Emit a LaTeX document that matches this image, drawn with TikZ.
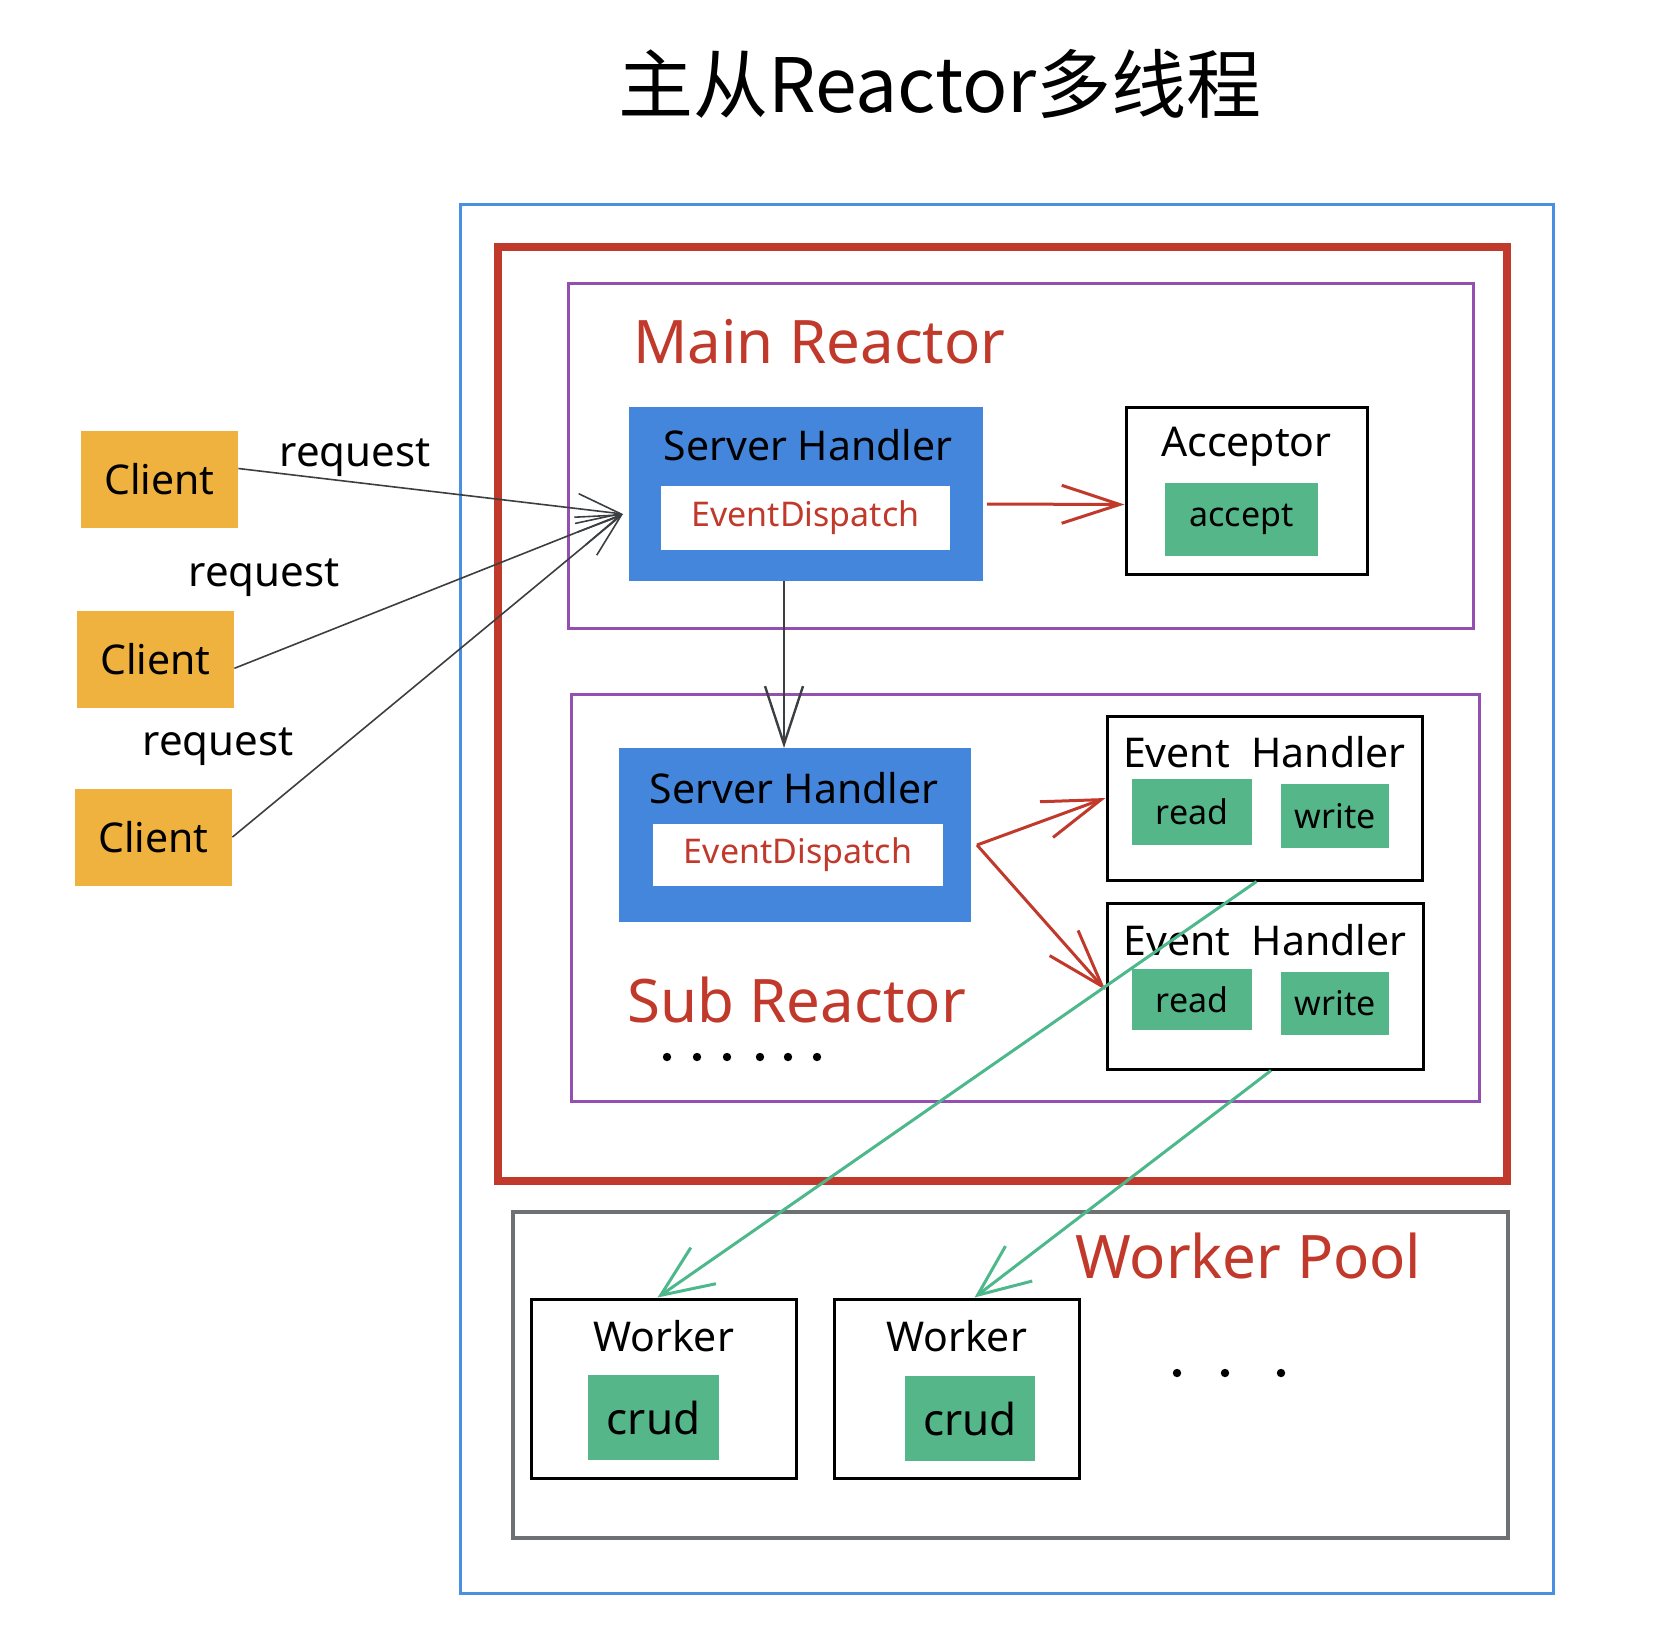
\documentclass[tikz,border=0pt]{standalone}
\usepackage{fontspec}
\setmainfont{Noto Sans}
\newfontfamily\cjkfont{Noto Sans CJK SC}
\usetikzlibrary{arrows.meta,positioning,calc}
\definecolor{frameblue}{HTML}{4A90E2}
\definecolor{framered}{HTML}{C0392B}
\definecolor{framepurple}{HTML}{9350B0}
\definecolor{poolgrey}{HTML}{6E7174}
\definecolor{handlerblue}{HTML}{4486DC}
\definecolor{opgreen}{HTML}{55B68A}
\definecolor{clientorange}{HTML}{EFB23E}
\definecolor{linegreen}{HTML}{4CB88C}
\definecolor{linegrey}{HTML}{3C3F42}

\begin{document}
\begin{tikzpicture}[x=0.5pt, y=-0.5pt,
    handler_box/.style={draw=handlerblue, fill=handlerblue, line width=1pt, inner sep=0pt},
    dispatch_box/.style={fill=white, inner sep=0pt, text=framered, font=\fontsize{17}{20}\selectfont},
    plain_box/.style={draw=black, line width=1.5pt, fill=white, inner sep=0pt},
    op_box/.style={fill=opgreen, inner sep=0pt, font=\fontsize{17}{20}\selectfont},
    client_box/.style={fill=clientorange, inner sep=0pt, minimum width=78.5pt, minimum height=48.5pt, font=\fontsize{20.5}{24}\selectfont},
    box_title/.style={font=\fontsize{20.5}{24}\selectfont},
    area_title/.style={anchor=west, text=framered, font=\fontsize{30}{36}\selectfont},
    req_label/.style={font=\fontsize{21}{25}\selectfont},
    request/.style={draw=linegrey, line width=0.8pt, -{Straight Barb[length=22pt,width=15pt]}},
    dispatch/.style={draw=framered, line width=1.5pt, -{Straight Barb[length=29pt,width=19pt]}},
    work/.style={draw=linegreen, line width=1.5pt, -{Straight Barb[length=26pt,width=22pt]}},
  ]
  \useasboundingbox (0,0) rectangle (1654,1644);
  % title
  \node[font=\cjkfont\fontsize{37.5}{42}\selectfont] (title) at (940,84) {主从Reactor多线程};
  % frames
  \draw[frameblue, line width=1.5pt] (460,204) rectangle (1553,1593);
  \draw[framered, line width=4pt] (498,247) rectangle (1507,1181);
  \draw[framepurple, line width=1.5pt] (568,283) rectangle (1473,628);
  \draw[framepurple, line width=1.5pt] (571,694) rectangle (1479,1101);
  \draw[poolgrey, line width=2pt] (513,1212) rectangle (1508,1538);
  \node[area_title] (main_title) at (626,342) {Main Reactor};
  \node[area_title] (sub_title) at (620,1000) {Sub Reactor};
  \node[area_title] (pool_title) at (1068,1256) {Worker Pool};
  % clients
  \node[client_box] (client_1) at (159.5,479.5) {Client};
  \node[client_box, below=41pt of client_1.south, anchor=north, xshift=-2pt] (client_2) {Client};
  \node[client_box, below=40pt of client_2.south, anchor=north, xshift=-1pt] (client_3) {Client};
  \node[req_label] (req_1) at (355,458) {request};
  \node[req_label] (req_2) at (264,578) {request};
  \node[req_label] (req_3) at (218,747) {request};
  % main reactor
  \node[handler_box, minimum width=176pt, minimum height=86pt] (main_sh) at (806,494) {};
  \node[box_title] (main_sh_title) at ($(main_sh.north)+(2,38)$) {Server Handler};
  \node[dispatch_box, minimum width=144.5pt, minimum height=32pt] (main_ed) at (805.5,518) {EventDispatch};
  \node[plain_box, minimum width=120.5pt, minimum height=83.5pt] (acceptor) at (1246.5,490.5) {};
  \node[box_title] (acceptor_title) at ($(acceptor.north)+(0,41)$) {Acceptor};
  \node[op_box, minimum width=76.5pt, minimum height=36.5pt] (accept) at (1241.5,519.5) {accept};
  % sub reactor
  \node[handler_box, minimum width=175pt, minimum height=86pt] (sub_sh) at (795,835) {};
  \node[box_title] (sub_sh_title) at ($(sub_sh.north)+(-1,40)$) {Server Handler};
  \node[dispatch_box, minimum width=145pt, minimum height=31pt] (sub_ed) at (798,855) {EventDispatch};
  \node[plain_box, minimum width=157.5pt, minimum height=82pt] (eh_1) at (1264.5,798) {};
  \node[box_title] (eh_1_title) at ($(eh_1.north)+(0,38)$) {Event\ \ Handler};
  \node[op_box, minimum width=60pt, minimum height=33pt] (read_1) at (1192,812) {read};
  \node[op_box, minimum width=54pt, minimum height=32pt] (write_1) at (1335,816) {write};
  \node[plain_box, minimum width=158pt, minimum height=83pt] (eh_2) at (1265,986) {};
  \node[box_title] (eh_2_title) at ($(eh_2.north)+(0,39)$) {Event\ \ Handler};
  \node[op_box, minimum width=60pt, minimum height=30.5pt] (read_2) at (1192,999.5) {read};
  \node[op_box, minimum width=54pt, minimum height=31.5pt] (write_2) at (1335,1003.5) {write};
  \foreach \x in {667,697,727,760,788,817}
    \fill (\x,1057) circle[radius=2.1pt];
  % worker pool
  \node[plain_box, minimum width=132.5pt, minimum height=89.5pt] (worker_1) at (663.5,1388.5) {};
  \node[box_title] (worker_1_title) at ($(worker_1.north)+(0,39)$) {Worker};
  \node[op_box, minimum width=65.5pt, minimum height=42.5pt, font=\fontsize{22}{26}\selectfont] (crud_1) at (653.5,1417.5) {crud};
  \node[plain_box, minimum width=122.5pt, minimum height=89.5pt] (worker_2) at (956.5,1388.5) {};
  \node[box_title] (worker_2_title) at ($(worker_2.north)+(0,39)$) {Worker};
  \node[op_box, minimum width=65pt, minimum height=42.5pt, font=\fontsize{22}{26}\selectfont] (crud_2) at (970,1418.5) {crud};
  \foreach \x in {1177,1225,1281}
    \fill (\x,1373) circle[radius=2.1pt];
  % connectors
  \coordinate (sh_in) at (623,514);
  \coordinate (sh_out) at (977,845);
  \coordinate (down_x) at (784,0);
  \draw[request] ([yshift=5.5pt]client_1.east) -- (sh_in);
  \draw[request] ([yshift=-4.5pt]client_2.east) -- (sh_in);
  \draw[request] (client_3.east) -- (sh_in);
  \draw[dispatch] ([xshift=2pt,yshift=-5pt]main_sh.east) -- ([yshift=-7pt]acceptor.west);
  \draw[linegrey, line width=1.2pt, -{Straight Barb[length=29pt,width=19pt]}]
    (main_sh.south -| down_x) -- (sub_sh.north -| down_x);
  \draw[dispatch] (sh_out) -- (eh_1.west);
  \draw[dispatch] (sh_out) -- ([yshift=-2pt]eh_2.west);
  \draw[work] ([xshift=-4pt]eh_1.south) -- ([xshift=-3pt]worker_1.north);
  \draw[work] ([xshift=3pt]eh_2.south) -- ([xshift=9pt]worker_2.north);
\end{tikzpicture}
\end{document}
